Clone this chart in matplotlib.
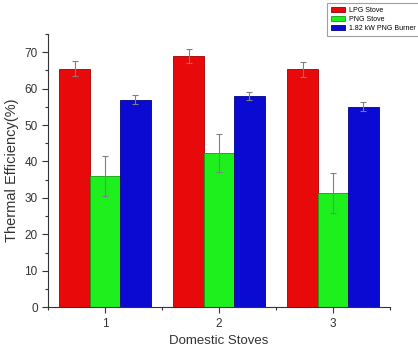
import matplotlib
matplotlib.use("Agg")
import matplotlib.pyplot as plt
import numpy as np
from matplotlib.ticker import MultipleLocator, FixedLocator

plt.rcParams['font.family'] = ['Liberation Sans', 'DejaVu Sans']

stoves = [1, 2, 3]
series = ["LPG Stove", "PNG Stove", "1.82 kW PNG Burner"]
lpg = [65.5, 69.0, 65.3]
png = [36.0, 42.3, 31.3]
burner = [57.0, 58.0, 55.0]
lpg_err = [2.0, 2.0, 2.0]
png_err = [5.5, 5.3, 5.4]
burner_err = [1.2, 1.2, 1.2]

values = [lpg, png, burner]
errors = [lpg_err, png_err, burner_err]
colors = ["#e80a0a", "#1ef01e", "#0a0ad2"]
edges = ["#a00000", "#10a010", "#00008a"]

fig = plt.figure(figsize=(4.18, 3.51), dpi=100)
ax = fig.add_axes([0.115, 0.125, 0.818, 0.778])

w = 0.267
x = np.array(stoves, dtype=float)
for i, (v, e, c, ec, lab) in enumerate(zip(values, errors, colors, edges, series)):
    ax.bar(x + (i - 1) * w, v, w, yerr=e, color=c, edgecolor=ec, linewidth=0.6,
           label=lab, error_kw=dict(ecolor="#808080", elinewidth=0.8, capsize=2.5, capthick=0.8))

ax.set_xlim(0.5, 3.5)
ax.set_ylim(0, 75)
ax.set_xticks(stoves)
ax.xaxis.set_minor_locator(FixedLocator([0.5, 1.5, 2.5, 3.5]))
ax.yaxis.set_major_locator(MultipleLocator(10))
ax.yaxis.set_minor_locator(MultipleLocator(5))
ax.spines['top'].set_visible(False)
ax.spines['right'].set_visible(False)
for s in ['left', 'bottom']:
    ax.spines[s].set_color("#333333")
    ax.spines[s].set_linewidth(0.8)
ax.tick_params(axis='both', which='major', direction='out', length=4, width=0.8, labelsize=8.5, colors="#333333")
ax.tick_params(axis='both', which='minor', direction='out', length=2.5, width=0.8, colors="#333333")
ax.set_xlabel("Domestic Stoves", fontsize=9.5, color="#333333")
ax.set_ylabel("Thermal Efficiency(%)", fontsize=10.5, color="#333333")

leg = fig.legend(loc='upper right', bbox_to_anchor=(1.003, 0.992), fontsize=5, frameon=True,
                 fancybox=False, edgecolor="#888888", handlelength=2.0, handleheight=0.75,
                 borderpad=0.55, labelspacing=0.3, handletextpad=0.6, borderaxespad=0)
leg.get_frame().set_linewidth(0.8)

fig.savefig("out.png", dpi=100)
